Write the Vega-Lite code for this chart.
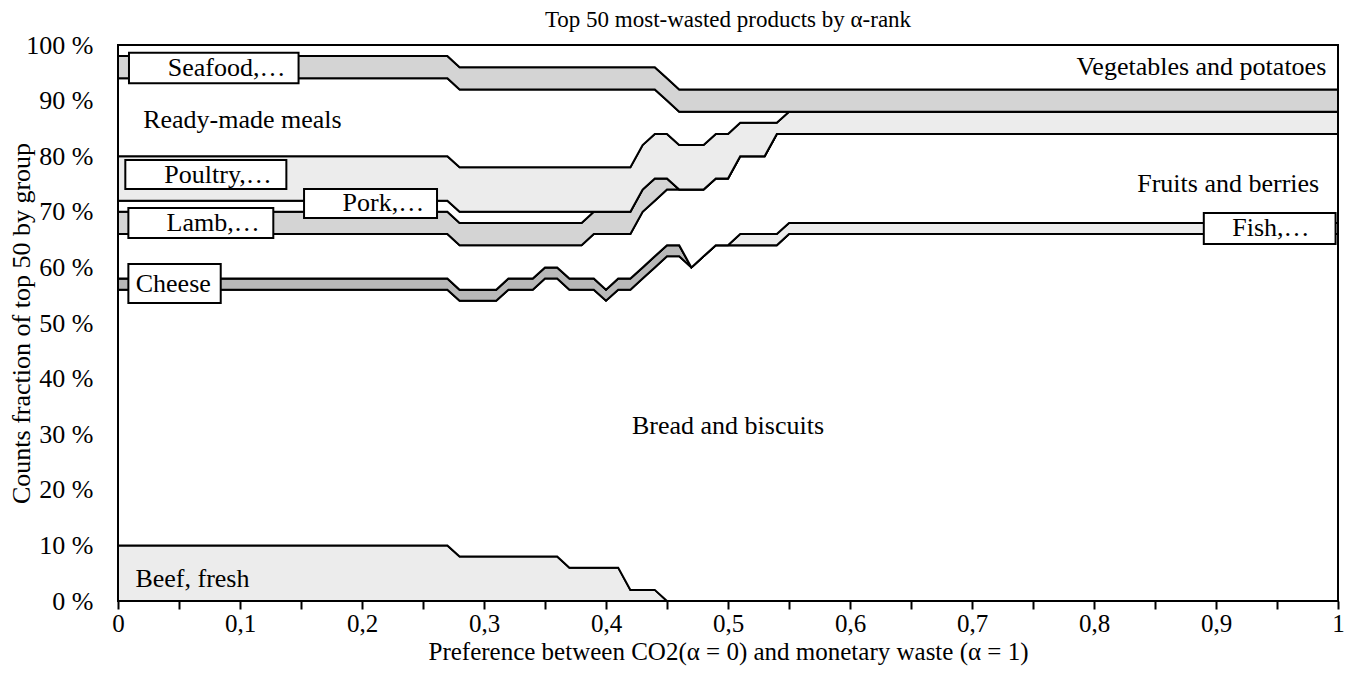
{
  "$schema": "https://vega.github.io/schema/vega-lite/v6.json",
  "width": 1220,
  "height": 556,
  "autosize": {"type": "none"},
  "padding": {"left": 118, "top": 45, "right": 8, "bottom": 76},
  "background": "white",
  "config": {
    "font": "Liberation Serif",
    "view": {"stroke": "black", "strokeWidth": 2},
    "text": {"font": "Liberation Serif", "color": "black"}
  },
  "title": {
    "text": "Top 50 most-wasted products by α-rank",
    "font": "Liberation Serif",
    "fontSize": 23,
    "fontWeight": "normal",
    "color": "black",
    "offset": 0
  },
  "datasets": {
    "shares": [
      {"a": 0, "Beef": 10, "Bread": 46, "Cheese": 2, "Fish": 0, "Fruits": 8, "Lamb": 4, "Pork": 2, "Poultry": 8, "Ready": 14, "Seafood": 4, "Veg": 2},
      {"a": 0.27, "Beef": 10, "Bread": 46, "Cheese": 2, "Fish": 0, "Fruits": 8, "Lamb": 4, "Pork": 2, "Poultry": 8, "Ready": 14, "Seafood": 4, "Veg": 2},
      {"a": 0.28, "Beef": 8, "Bread": 46, "Cheese": 2, "Fish": 0, "Fruits": 8, "Lamb": 4, "Pork": 2, "Poultry": 8, "Ready": 14, "Seafood": 4, "Veg": 4},
      {"a": 0.31, "Beef": 8, "Bread": 46, "Cheese": 2, "Fish": 0, "Fruits": 8, "Lamb": 4, "Pork": 2, "Poultry": 8, "Ready": 14, "Seafood": 4, "Veg": 4},
      {"a": 0.32, "Beef": 8, "Bread": 48, "Cheese": 2, "Fish": 0, "Fruits": 6, "Lamb": 4, "Pork": 2, "Poultry": 8, "Ready": 14, "Seafood": 4, "Veg": 4},
      {"a": 0.34, "Beef": 8, "Bread": 48, "Cheese": 2, "Fish": 0, "Fruits": 6, "Lamb": 4, "Pork": 2, "Poultry": 8, "Ready": 14, "Seafood": 4, "Veg": 4},
      {"a": 0.35, "Beef": 8, "Bread": 50, "Cheese": 2, "Fish": 0, "Fruits": 4, "Lamb": 4, "Pork": 2, "Poultry": 8, "Ready": 14, "Seafood": 4, "Veg": 4},
      {"a": 0.36, "Beef": 8, "Bread": 50, "Cheese": 2, "Fish": 0, "Fruits": 4, "Lamb": 4, "Pork": 2, "Poultry": 8, "Ready": 14, "Seafood": 4, "Veg": 4},
      {"a": 0.37, "Beef": 6, "Bread": 50, "Cheese": 2, "Fish": 0, "Fruits": 6, "Lamb": 4, "Pork": 2, "Poultry": 8, "Ready": 14, "Seafood": 4, "Veg": 4},
      {"a": 0.38, "Beef": 6, "Bread": 50, "Cheese": 2, "Fish": 0, "Fruits": 6, "Lamb": 4, "Pork": 2, "Poultry": 8, "Ready": 14, "Seafood": 4, "Veg": 4},
      {"a": 0.39, "Beef": 6, "Bread": 50, "Cheese": 2, "Fish": 0, "Fruits": 8, "Lamb": 4, "Pork": 0, "Poultry": 8, "Ready": 14, "Seafood": 4, "Veg": 4},
      {"a": 0.40, "Beef": 6, "Bread": 48, "Cheese": 2, "Fish": 0, "Fruits": 10, "Lamb": 4, "Pork": 0, "Poultry": 8, "Ready": 14, "Seafood": 4, "Veg": 4},
      {"a": 0.41, "Beef": 6, "Bread": 50, "Cheese": 2, "Fish": 0, "Fruits": 8, "Lamb": 4, "Pork": 0, "Poultry": 8, "Ready": 14, "Seafood": 4, "Veg": 4},
      {"a": 0.42, "Beef": 2, "Bread": 54, "Cheese": 2, "Fish": 0, "Fruits": 8, "Lamb": 4, "Pork": 0, "Poultry": 8, "Ready": 14, "Seafood": 4, "Veg": 4},
      {"a": 0.43, "Beef": 2, "Bread": 56, "Cheese": 2, "Fish": 0, "Fruits": 10, "Lamb": 4, "Pork": 0, "Poultry": 8, "Ready": 10, "Seafood": 4, "Veg": 4},
      {"a": 0.44, "Beef": 2, "Bread": 58, "Cheese": 2, "Fish": 0, "Fruits": 10, "Lamb": 4, "Pork": 0, "Poultry": 8, "Ready": 8, "Seafood": 4, "Veg": 4},
      {"a": 0.45, "Beef": 0, "Bread": 62, "Cheese": 2, "Fish": 0, "Fruits": 10, "Lamb": 2, "Pork": 0, "Poultry": 8, "Ready": 6, "Seafood": 4, "Veg": 6},
      {"a": 0.46, "Beef": 0, "Bread": 62, "Cheese": 2, "Fish": 0, "Fruits": 10, "Lamb": 0, "Pork": 0, "Poultry": 8, "Ready": 6, "Seafood": 4, "Veg": 8},
      {"a": 0.47, "Beef": 0, "Bread": 60, "Cheese": 0, "Fish": 0, "Fruits": 14, "Lamb": 0, "Pork": 0, "Poultry": 8, "Ready": 6, "Seafood": 4, "Veg": 8},
      {"a": 0.48, "Beef": 0, "Bread": 62, "Cheese": 0, "Fish": 0, "Fruits": 12, "Lamb": 0, "Pork": 0, "Poultry": 8, "Ready": 6, "Seafood": 4, "Veg": 8},
      {"a": 0.49, "Beef": 0, "Bread": 64, "Cheese": 0, "Fish": 0, "Fruits": 12, "Lamb": 0, "Pork": 0, "Poultry": 8, "Ready": 4, "Seafood": 4, "Veg": 8},
      {"a": 0.50, "Beef": 0, "Bread": 64, "Cheese": 0, "Fish": 0, "Fruits": 12, "Lamb": 0, "Pork": 0, "Poultry": 8, "Ready": 4, "Seafood": 4, "Veg": 8},
      {"a": 0.51, "Beef": 0, "Bread": 64, "Cheese": 0, "Fish": 2, "Fruits": 14, "Lamb": 0, "Pork": 0, "Poultry": 6, "Ready": 2, "Seafood": 4, "Veg": 8},
      {"a": 0.53, "Beef": 0, "Bread": 64, "Cheese": 0, "Fish": 2, "Fruits": 14, "Lamb": 0, "Pork": 0, "Poultry": 6, "Ready": 2, "Seafood": 4, "Veg": 8},
      {"a": 0.54, "Beef": 0, "Bread": 64, "Cheese": 0, "Fish": 2, "Fruits": 18, "Lamb": 0, "Pork": 0, "Poultry": 2, "Ready": 2, "Seafood": 4, "Veg": 8},
      {"a": 0.55, "Beef": 0, "Bread": 66, "Cheese": 0, "Fish": 2, "Fruits": 16, "Lamb": 0, "Pork": 0, "Poultry": 4, "Ready": 0, "Seafood": 4, "Veg": 8},
      {"a": 1, "Beef": 0, "Bread": 66, "Cheese": 0, "Fish": 2, "Fruits": 16, "Lamb": 0, "Pork": 0, "Poultry": 4, "Ready": 0, "Seafood": 4, "Veg": 8}
    ],
    "labels": [
      {"t": "Seafood,…", "x": 0.089, "y": 95.9, "x1": 0.009, "x2": 0.148, "y1": 93.1, "y2": 98.6},
      {"t": "Poultry,…", "x": 0.082, "y": 76.7, "x1": 0.006, "x2": 0.138, "y1": 74.1, "y2": 79.3},
      {"t": "Pork,…", "x": 0.2175, "y": 71.5, "x1": 0.1525, "x2": 0.2615, "y1": 68.9, "y2": 74.1},
      {"t": "Lamb,…", "x": 0.078, "y": 68.0, "x1": 0.0085, "x2": 0.1273, "y1": 65.3, "y2": 70.7},
      {"t": "Cheese", "x": 0.0453, "y": 57.0, "x1": 0.0085, "x2": 0.0842, "y1": 53.6, "y2": 60.6},
      {"t": "Fish,…", "x": 0.945, "y": 67.0, "x1": 0.89, "x2": 0.998, "y1": 64.2, "y2": 69.8},
      {"t": "Ready-made meals", "x": 0.102, "y": 86.5},
      {"t": "Vegetables and potatoes", "x": 0.888, "y": 96.0},
      {"t": "Fruits and berries", "x": 0.91, "y": 75.0},
      {"t": "Bread and biscuits", "x": 0.5, "y": 31.5},
      {"t": "Beef, fresh", "x": 0.061, "y": 4.0}
    ]
  },
  "layer": [
    {
      "data": {"name": "shares"},
      "transform": [
        {"fold": ["Beef", "Bread", "Cheese", "Fish", "Fruits", "Lamb", "Pork", "Poultry", "Ready", "Seafood", "Veg"], "as": ["grp", "pct"]}
      ],
      "mark": {"type": "area", "stroke": "black", "strokeWidth": 2, "interpolate": "linear", "strokeJoin": "miter"},
      "encoding": {
        "x": {
          "field": "a", "type": "quantitative",
          "title": "Preference between CO2(α = 0) and monetary waste (α = 1)",
          "scale": {"domain": [0, 1], "nice": false, "zero": false},
          "axis": {
            "values": [0, 0.05, 0.1, 0.15, 0.2, 0.25, 0.3, 0.35, 0.4, 0.45, 0.5, 0.55, 0.6, 0.65, 0.7, 0.75, 0.8, 0.85, 0.9, 0.95, 1],
            "labelExpr": "abs(datum.value*10 - round(datum.value*10)) < 0.001 ? replace(format(datum.value, '~g'), '.', ',') : ''",
            "labelOverlap": false,
            "labelFlush": false,
            "domain": false,
            "grid": false,
            "tickSize": 8,
            "tickWidth": 2,
            "tickColor": "black",
            "labelFont": "Liberation Serif",
            "labelFontSize": 25,
            "labelColor": "black",
            "labelPadding": 2,
            "titleFont": "Liberation Serif",
            "titleFontSize": 25,
            "titleFontWeight": "normal",
            "titleColor": "black",
            "titlePadding": 3
          }
        },
        "y": {
          "field": "pct", "type": "quantitative", "stack": "zero",
          "title": "Counts fraction of top 50 by group",
          "scale": {"domain": [0, 100], "nice": false},
          "axis": {
            "values": [0, 10, 20, 30, 40, 50, 60, 70, 80, 90, 100],
            "labelExpr": "datum.value + ' %'",
            "ticks": false,
            "domain": false,
            "grid": false,
            "labelFont": "Liberation Serif",
            "labelFontSize": 26,
            "labelColor": "black",
            "labelPadding": 25,
            "titleFont": "Liberation Serif",
            "titleFontSize": 26,
            "titleFontWeight": "normal",
            "titleColor": "black",
            "titleX": -84,
            "titleY": 278
          }
        },
        "order": {"field": "grp", "type": "ordinal", "sort": "ascending"},
        "fill": {
          "field": "grp", "type": "nominal", "legend": null,
          "scale": {
            "domain": ["Beef", "Bread", "Cheese", "Fish", "Fruits", "Lamb", "Pork", "Poultry", "Ready", "Seafood", "Veg"],
            "range": ["#ececec", "#ffffff", "#b8b8b8", "#ececec", "#ffffff", "#d4d4d4", "#ffffff", "#ececec", "#ffffff", "#d4d4d4", "#ffffff"]
          }
        }
      }
    },
    {
      "data": {"name": "labels"},
      "transform": [{"filter": "isValid(datum.x1)"}],
      "mark": {"type": "rect", "fill": "white", "stroke": "black", "strokeWidth": 2},
      "encoding": {
        "x": {"field": "x1", "type": "quantitative", "title": "Preference between CO2(α = 0) and monetary waste (α = 1)"},
        "x2": {"field": "x2"},
        "y": {"field": "y1", "type": "quantitative", "title": "Counts fraction of top 50 by group"},
        "y2": {"field": "y2"}
      }
    },
    {
      "data": {"name": "labels"},
      "mark": {"type": "text", "font": "Liberation Serif", "fontSize": 26, "color": "black", "align": "center", "baseline": "middle"},
      "encoding": {
        "x": {"field": "x", "type": "quantitative", "title": "Preference between CO2(α = 0) and monetary waste (α = 1)"},
        "y": {"field": "y", "type": "quantitative", "title": "Counts fraction of top 50 by group"},
        "text": {"field": "t"}
      }
    }
  ]
}
